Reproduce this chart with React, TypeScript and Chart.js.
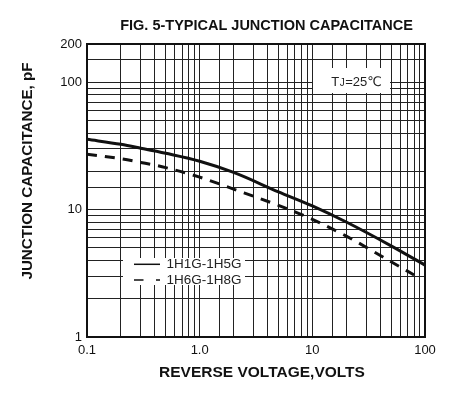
import React, { useEffect, useRef } from 'react';
import { Chart, registerables } from 'chart.js';

Chart.register(...registerables);

const TITLE = 'FIG. 5-TYPICAL JUNCTION CAPACITANCE';
const X_TITLE = 'REVERSE VOLTAGE,VOLTS';
const Y_TITLE = 'JUNCTION CAPACITANCE, pF';
const NOTE_MAIN = 'T';
const NOTE_SUB = 'J';
const NOTE_REST = '=25\u2103';

const seriesLabels = ['1H1G-1H5G', '1H6G-1H8G'];

// Reverse voltage (V) and junction capacitance (pF)
const voltagesA = [0.1, 0.2, 0.3, 0.5, 1, 2, 5, 10, 20, 50, 100];
const capacitanceA = [35.7, 32.6, 30.4, 27.7, 24.0, 19.6, 13.8, 10.7, 8.0, 5.2, 3.67];
const voltagesB = [0.1, 0.2, 0.3, 0.5, 1, 2, 5, 10, 20, 50, 80];
const capacitanceB = [27.2, 25.1, 23.5, 21.4, 18.0, 14.5, 10.8, 8.4, 6.2, 3.9, 3.07];

const xRange = [0.1, 100];
const yRange = [1, 200];
const xTickValues = [0.1, 1, 10, 100];
const xTickTexts = ['0.1', '1.0', '10', '100'];
const yTickValues = [1, 10, 100, 200];
const yTickTexts = ['1', '10', '100', '200'];

const FONT = "Arial, 'Liberation Sans', 'DejaVu Sans', sans-serif";
const INK = '#111';

function labelFor(values: number[], texts: string[], v: number) {
  const i = values.findIndex((t) => Math.abs(t - v) / t < 1e-6);
  return i >= 0 ? texts[i] : '';
}

const decorPlugin = {
  id: 'decor',
  beforeDatasetsDraw(chart: any) {
    const { ctx, chartArea: a } = chart;
    ctx.save();
    ctx.fillStyle = '#fff';
    // legend panel
    ctx.fillRect(a.left + 36, a.top + 214, 122, 27);
    // temperature note panel
    ctx.fillRect(a.left + 226, a.top + 24, 77, 25);
    ctx.restore();
  },
  afterDatasetsDraw(chart: any) {
    const { ctx, chartArea: a } = chart;
    ctx.save();
    // frame
    ctx.strokeStyle = INK;
    ctx.lineWidth = 2;
    ctx.setLineDash([]);
    ctx.strokeRect(a.left, a.top, a.right - a.left, a.bottom - a.top);

    // legend
    const ds = chart.data.datasets;
    const lx0 = a.left + 47;
    const lx1 = a.left + 73;
    const rows = [a.top + 220.3, a.top + 236];
    ds.forEach((d: any, i: number) => {
      const y = rows[i];
      ctx.beginPath();
      ctx.lineWidth = 1.5;
      ctx.strokeStyle = INK;
      ctx.setLineDash(d.borderDash && d.borderDash.length ? [9.5, 12.5] : []);
      ctx.moveTo(lx0, y);
      ctx.lineTo(lx1, y);
      ctx.stroke();
      ctx.setLineDash([]);
      ctx.fillStyle = '#222';
      ctx.font = `13.5px ${FONT}`;
      ctx.textAlign = 'left';
      ctx.textBaseline = 'middle';
      ctx.fillText(d.label, a.left + 79.5, y);
    });

    // temperature note
    ctx.fillStyle = '#222';
    ctx.textBaseline = 'alphabetic';
    ctx.textAlign = 'left';
    const big = `13px ${FONT}`;
    const small = `10px ${FONT}`;
    ctx.font = big;
    const w1 = ctx.measureText(NOTE_MAIN).width;
    const w3 = ctx.measureText(NOTE_REST).width;
    ctx.font = small;
    const w2 = ctx.measureText(NOTE_SUB).width;
    const total = w1 + w2 + w3 + 1;
    let nx = a.left + 269.5 - total / 2;
    const ny = a.top + 41.5;
    ctx.font = big;
    ctx.fillText(NOTE_MAIN, nx, ny);
    nx += w1 + 0.5;
    ctx.font = small;
    ctx.fillText(NOTE_SUB, nx, ny);
    nx += w2 + 0.5;
    ctx.font = big;
    ctx.fillText(NOTE_REST, nx, ny);
    ctx.restore();
  },
  afterDraw(chart: any) {
    const { ctx, chartArea: a } = chart;
    ctx.save();
    ctx.fillStyle = INK;
    ctx.textAlign = 'center';
    ctx.textBaseline = 'middle';
    ctx.font = `bold 14.5px ${FONT}`;
    ctx.fillText(TITLE, a.left + 179.5, 26);
    ctx.font = `bold 15.5px ${FONT}`;
    ctx.fillText(X_TITLE, a.left + 175, a.bottom + 36);
    ctx.translate(28, a.top + 127);
    ctx.rotate(-Math.PI / 2);
    ctx.font = `bold 15.2px ${FONT}`;
    ctx.fillText(Y_TITLE, 0, 0);
    ctx.restore();
  },
};

export default function App() {
  const ref = useRef<HTMLCanvasElement>(null);

  useEffect(() => {
    if (!ref.current) return;
    Chart.defaults.font.family = FONT;
    const chart = new Chart(ref.current, {
      type: 'line',
      data: {
        datasets: [
          {
            label: seriesLabels[0],
            data: voltagesA.map((v, i) => ({ x: v, y: capacitanceA[i] })),
            borderColor: INK,
            borderWidth: 3,
            pointRadius: 0,
            cubicInterpolationMode: 'monotone',
            borderCapStyle: 'butt',
            fill: false,
          },
          {
            label: seriesLabels[1],
            data: voltagesB.map((v, i) => ({ x: v, y: capacitanceB[i] })),
            borderColor: INK,
            borderWidth: 3,
            borderDash: [10, 8],
            pointRadius: 0,
            cubicInterpolationMode: 'monotone',
            borderCapStyle: 'butt',
            fill: false,
          },
        ],
      },
      options: {
        responsive: false,
        animation: false,
        events: [],
        layout: { padding: { top: 44, right: 30, left: 0, bottom: 0 } },
        plugins: {
          legend: { display: false },
          tooltip: { enabled: false },
          title: { display: false },
        },
        scales: {
          x: {
            type: 'logarithmic',
            min: xRange[0],
            max: xRange[1],
            border: { display: false },
            grid: { color: '#222', lineWidth: 1, drawTicks: false },
            ticks: {
              autoSkip: false,
              maxRotation: 0,
              padding: 6,
              color: INK,
              font: { size: 13, family: FONT },
              callback: (v: any) => labelFor(xTickValues, xTickTexts, Number(v)),
            },
            afterFit: (s: any) => {
              s.height = 58;
            },
          },
          y: {
            type: 'logarithmic',
            min: yRange[0],
            max: yRange[1],
            border: { display: false },
            grid: { color: '#222', lineWidth: 1, drawTicks: false },
            ticks: {
              autoSkip: false,
              padding: 5,
              color: INK,
              font: { size: 13, family: FONT },
              callback: (v: any) => labelFor(yTickValues, yTickTexts, Number(v)),
            },
            afterFit: (s: any) => {
              s.width = 87;
            },
          },
        },
      } as any,
      plugins: [decorPlugin],
    });
    return () => chart.destroy();
  }, []);

  return (
    <div style={{ position: 'fixed', left: 0, top: 0, width: 455, height: 395, background: '#fff' }}>
      <canvas ref={ref} width={455} height={395} style={{ display: 'block' }} />
    </div>
  );
}
